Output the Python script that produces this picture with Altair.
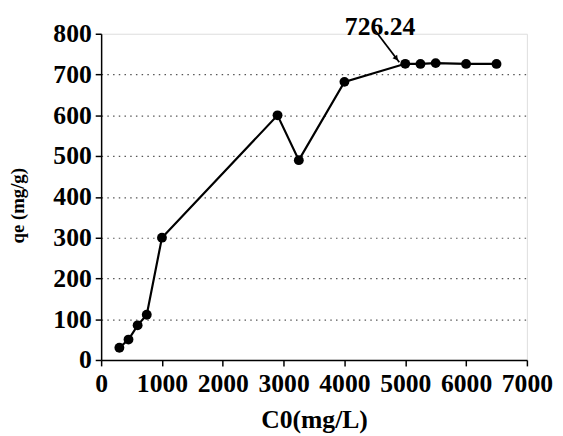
import altair as alt
import pandas as pd

# data
c0 = [300, 450, 600, 750, 1000, 2900, 3250, 4000, 5000, 5250, 5500, 6000, 6500]
qe = [30, 50, 85, 111, 300, 600, 490, 682, 726.24, 726, 728, 726, 726]

x_ticks = list(range(0, 7001, 500))
y_ticks = list(range(0, 801, 50))

ann_label = ["726.24"]
ann_x = [4586]
ann_y = [798]
arrow_x = [4496, 4902]
arrow_y = [810, 730]
head_x = [4845]
head_y = [741]

FONT = "Liberation Serif"

df = pd.DataFrame({"C0": c0, "qe": qe})
ann = pd.DataFrame({"x": ann_x, "y": ann_y, "t": ann_label})
arr = pd.DataFrame({"x": [arrow_x[0]], "y": [arrow_y[0]], "x2": [arrow_x[1]], "y2": [arrow_y[1]]})
head = pd.DataFrame({"x": head_x, "y": head_y})

xscale = alt.Scale(domain=[0, 7000], nice=False, zero=True)
yscale = alt.Scale(domain=[0, 800], nice=False)

xaxis = alt.Axis(
    values=x_ticks, format="d",
    labelExpr="datum.value % 1000 === 0 ? datum.label : ''",
    tickSize={"condition": {"test": "datum.value % 1000 === 0", "value": 6}, "value": 3},
    grid=False, labelFont=FONT, labelFontWeight="bold", labelFontSize=26,
    labelColor="black", labelPadding=5, domainColor="black", domainWidth=1.5,
    tickColor="black", tickWidth=1.5, titleFont=FONT, titleFontWeight="bold",
    titleFontSize=26, titleColor="black", titlePadding=11, labelFlush=False,
    labelOverlap=False,
)
yaxis = alt.Axis(
    values=y_ticks, format="d",
    labelExpr="datum.value % 100 === 0 ? datum.label : ''",
    tickSize={"condition": {"test": "datum.value % 100 === 0", "value": 6}, "value": 3},
    grid=True, gridDash=[1.5, 4.3], gridColor="#555", gridWidth=1.2,
    gridOpacity={"condition": {"test": "datum.value % 100 === 0 && datum.value > 0 && datum.value < 800", "value": 1}, "value": 0},
    labelFont=FONT, labelFontWeight="bold", labelFontSize=26, labelColor="black",
    labelPadding=4, domainColor="black", domainWidth=1.5, tickColor="black",
    tickWidth=1.5, titleFont=FONT, titleFontWeight="bold", titleFontSize=19,
    titleColor="black", titleX=-75, titleY=174, labelFlush=False, labelOverlap=False,
)

line = alt.Chart(df).mark_line(color="black", strokeWidth=2.2).encode(
    x=alt.X("C0:Q", scale=xscale, axis=xaxis, title="C0(mg/L)"),
    y=alt.Y("qe:Q", scale=yscale, axis=yaxis, title="qe (mg/g)"),
)
pts = alt.Chart(df).mark_point(filled=True, color="black", size=100, opacity=1).encode(
    x=alt.X("C0:Q", scale=xscale), y=alt.Y("qe:Q", scale=yscale)
)
txt = alt.Chart(ann).mark_text(font=FONT, fontWeight="bold", fontSize=26, color="black",
                               baseline="alphabetic").encode(
    x=alt.X("x:Q", scale=xscale), y=alt.Y("y:Q", scale=yscale), text="t:N"
)
arrow = alt.Chart(arr).mark_rule(color="black", strokeWidth=1.8).encode(
    x=alt.X("x:Q", scale=xscale), y=alt.Y("y:Q", scale=yscale), x2="x2:Q", y2="y2:Q"
)
arrowhead = alt.Chart(head).mark_point(shape="triangle", filled=True, color="black", size=35, angle=143, opacity=1).encode(
    x=alt.X("x:Q", scale=xscale), y=alt.Y("y:Q", scale=yscale)
)

chart = alt.layer(line, pts, arrow, arrowhead, txt).properties(
    width=432, height=331,
    autosize=alt.AutoSizeParams(type="none"),
    padding={"left": 94.5, "top": 23, "right": 28.5, "bottom": 74},
).configure_view(stroke=None).configure(background="white")

chart.save("out.html", embed_options={"renderer": "svg", "actions": False})
